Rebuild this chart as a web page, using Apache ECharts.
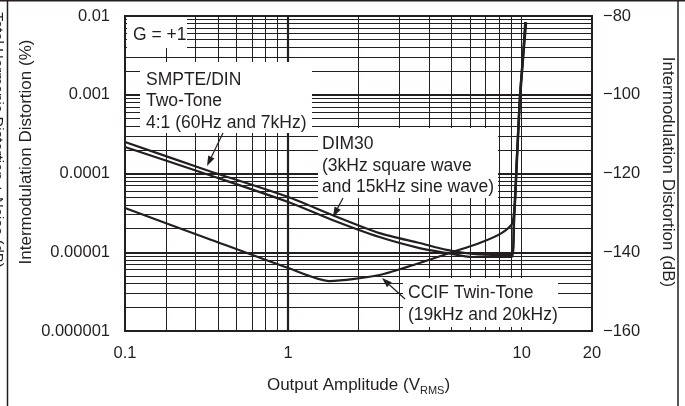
<!DOCTYPE html>
<html><head><meta charset="utf-8">
<script src="https://cdn.jsdelivr.net/npm/echarts@6/dist/echarts.min.js"></script>
<style>html,body{margin:0;padding:0;background:#fff}#c{width:685px;height:406px}</style>
</head><body><div id="c"></div>
<script>
// ---- data (Output amplitude in VRMS, distortion in %) ----
const smpteX = [0.2, 0.445, 1, 1.545, 2.46, 3.65, 4.77, 6.16, 8.05, 9.06, 9.24, 9.52, 9.80, 10.09, 10.4];
const smpteY = [2.51e-4, 1.11e-4, 5.04e-5, 2.97e-5, 1.75e-5, 1.31e-5, 1.07e-5, 9.5e-6, 9.2e-6, 9.2e-6, 2.4e-5, 1.45e-4, 8.5e-4, 2.7e-3, 8.3e-3];
const dim30X = [0.2, 0.445, 1, 1.545, 2.46, 3.65, 4.77, 6.16, 8.05, 9.06, 9.28, 9.55, 9.84, 10.13, 10.45];
const dim30Y = [2.17e-4, 9.86e-5, 4.35e-5, 2.57e-5, 1.56e-5, 1.13e-5, 9.8e-6, 8.7e-6, 8.7e-6, 8.7e-6, 2.4e-5, 1.45e-4, 8.5e-4, 2.7e-3, 8.3e-3];
const ccifX = [0.2, 0.445, 1, 1.5, 2.46, 3.65, 4.91, 6.6, 8.2, 9.15, 9.52, 9.80, 10.09, 10.35];
const ccifY = [3.65e-5, 1.52e-5, 6.3e-6, 4.31e-6, 5.14e-6, 7.3e-6, 9.8e-6, 1.31e-5, 1.75e-5, 2.42e-5, 1.48e-4, 8.58e-4, 2.76e-3, 8.39e-3];

// ---- axes ----
const xTickValues = [0.2, 1, 10, 20];
const xTickLabels = ['0.1', '1', '10', '20'];
const yTickValues = [1e-6, 1e-5, 1e-4, 1e-3, 1e-2];
const yTickLabels = ['0.000001', '0.00001', '0.0001', '0.001', '0.01'];
const dbTicks = [-160, -140, -120, -100, -80];
const xMajorGrid = [1];
const xMinorGrid = [0.3, 0.4, 0.5, 0.6, 0.7, 0.8, 0.9, 2, 3, 4, 5, 6, 7, 8, 9, 10];
const yMajorGrid = [1e-5, 1e-4, 1e-3];

const X_MIN = 0.2, X_MAX = 20, Y_MIN = 1e-6, Y_MAX = 1e-2;
const INK = '#231f20';
const FONT = 'Liberation Sans, Arial, Helvetica, sans-serif';

const yMinorGrid = [];
for (let e = -6; e <= -3; e++) for (let k = 2; k <= 9; k++) yMinorGrid.push(k * Math.pow(10, e));

const zip = (xs, ys) => xs.map((x, i) => [x, ys[i]]);

const gridLines = [];
const vLine = (v, w) => gridLines.push([{ coord: [v, Y_MIN], lineStyle: { width: w } }, { coord: [v, Y_MAX] }]);
const hLine = (v, w) => gridLines.push([{ coord: [X_MIN, v], lineStyle: { width: w } }, { coord: [X_MAX, v] }]);
xMinorGrid.forEach(v => vLine(v, 1));
yMinorGrid.forEach(v => hLine(v, 1));
xMajorGrid.forEach(v => vLine(v, 2.2));
yMajorGrid.forEach(v => hLine(v, 2.2));

const chart = echarts.init(document.getElementById('c'), null, { renderer: 'canvas' });

const curveStyle = { color: INK, width: 2.2 };
function curve(name, data) {
  return { name, type: 'line', data, showSymbol: false, symbol: 'none', smooth: 0.25,
    lineStyle: curveStyle, z: 6, silent: true, animation: false };
}

function arrow(x1, y1, x2, y2) {
  const a = Math.atan2(y2 - y1, x2 - x1), L = 10, W = 3.5;
  const bx = x2 - L * Math.cos(a), by = y2 - L * Math.sin(a);
  const px = -Math.sin(a) * W, py = Math.cos(a) * W;
  return [
    { type: 'line', z: 20, shape: { x1, y1, x2: bx, y2: by }, style: { stroke: INK, lineWidth: 1.2 } },
    { type: 'polygon', z: 20, shape: { points: [[x2, y2], [bx + px, by + py], [bx - px, by - py]] }, style: { fill: INK } }
  ];
}
function box(x, y, w, h) {
  return { type: 'rect', z: 10, shape: { x, y, width: w, height: h }, style: { fill: '#fff' } };
}
function label(x, y, text) {
  return { type: 'text', z: 11, x, y, style: { text, font: '17.5px ' + FONT, fill: INK, lineHeight: 21.5, textVerticalAlign: 'top' } };
}

const graphics = [
  // outer frame of the figure
  { type: 'line', z: 1, shape: { x1: 0, y1: 0.75, x2: 685, y2: 0.75 }, style: { stroke: INK, lineWidth: 1.5 } },
  { type: 'line', z: 1, shape: { x1: 7.5, y1: 0, x2: 7.5, y2: 406 }, style: { stroke: INK, lineWidth: 1.5 } },
  { type: 'line', z: 1, shape: { x1: 678, y1: 0, x2: 678, y2: 406 }, style: { stroke: INK, lineWidth: 1.5 } },
  // axis titles
  { type: 'text', z: 11, x: -2.5, y: 140, rotation: -Math.PI / 2,
    style: { text: 'Total Harmonic Distortion + Noise (dB)', font: '15px ' + FONT, fill: INK, align: 'center', verticalAlign: 'middle' } },
  { type: 'text', z: 11, x: 26, y: 152, rotation: Math.PI / 2,
    style: { text: 'Intermodulation Distortion (%)', font: '17px ' + FONT, fill: INK, align: 'center', verticalAlign: 'middle' } },
  { type: 'text', z: 11, x: 668, y: 172, rotation: -Math.PI / 2,
    style: { text: 'Intermodulation Distortion (dB)', font: '17px ' + FONT, fill: INK, align: 'center', verticalAlign: 'middle' } },
  // annotation boxes
  box(127, 17, 60, 31), label(133, 24, 'G = +1'),
  box(140, 62, 172, 71), label(146, 69, 'SMPTE/DIN\nTwo-Tone\n4:1 (60Hz and 7kHz)'),
  box(318, 128, 180, 70), label(322, 133.5, 'DIM30\n(3kHz square wave\nand 15kHz sine wave)'),
  box(403, 278, 155, 49), label(408, 282.5, 'CCIF Twin-Tone\n(19kHz and 20kHz)'),
  ...arrow(223, 133, 207, 166),
  ...arrow(343, 198, 333, 217),
  ...arrow(405, 299, 382, 278)
];

const option = {
  animation: false,
  backgroundColor: '#fff',
  textStyle: { fontFamily: FONT, color: INK },
  grid: { left: 125, right: 93, top: 16, bottom: 75, show: true, borderColor: INK, borderWidth: 2, backgroundColor: 'transparent', z: 30 },
  xAxis: {
    type: 'log', logBase: 10, min: X_MIN, max: X_MAX,
    axisLine: { show: false }, axisTick: { show: false }, splitLine: { show: false }, minorSplitLine: { show: false },
    axisLabel: { customValues: xTickValues, margin: 14, fontSize: 16.5, color: INK, fontFamily: FONT,
      formatter: v => { const i = xTickValues.findIndex(t => Math.abs(t - v) / t < 1e-6); return i >= 0 ? xTickLabels[i] : ''; } },
    name: '{a|Output Amplitude (V}{s|RMS}{a|)}', nameLocation: 'middle', nameGap: 43,
    nameTextStyle: { rich: {
      a: { fontSize: 17, fontFamily: FONT, color: INK, lineHeight: 22, verticalAlign: 'middle' },
      s: { fontSize: 11, fontFamily: FONT, color: INK, lineHeight: 22, verticalAlign: 'bottom', padding: [10, 0, 0, 0] } } }
  },
  yAxis: [{
    type: 'log', logBase: 10, min: Y_MIN, max: Y_MAX, position: 'left',
    axisLine: { show: false }, axisTick: { show: false }, splitLine: { show: false },
    axisLabel: { customValues: yTickValues, margin: 15, fontSize: 16.5, color: INK, fontFamily: FONT,
      formatter: v => { const i = yTickValues.findIndex(t => Math.abs(t - v) / t < 1e-6); return i >= 0 ? yTickLabels[i] : ''; } }
  }, {
    type: 'value', min: -160, max: -80, interval: 20, position: 'right',
    axisLine: { show: false }, axisTick: { show: false }, splitLine: { show: false },
    axisLabel: { margin: 11, fontSize: 16.5, color: INK, fontFamily: FONT,
      formatter: v => dbTicks.includes(v) ? String(v).replace('-', '\u2212') : '' }
  }],
  series: [
    { name: 'grid', type: 'line', data: [], yAxisIndex: 0, silent: true, z: 1,
      markLine: { silent: true, symbol: ['none', 'none'], label: { show: false }, animation: false,
        lineStyle: { color: INK, type: 'solid', width: 1 }, emphasis: { disabled: true }, data: gridLines } },
    curve('SMPTE/DIN', zip(smpteX, smpteY)),
    curve('DIM30', zip(dim30X, dim30Y)),
    curve('CCIF', zip(ccifX, ccifY))
  ],
  graphic: graphics
};
chart.setOption(option);
</script></body></html>
